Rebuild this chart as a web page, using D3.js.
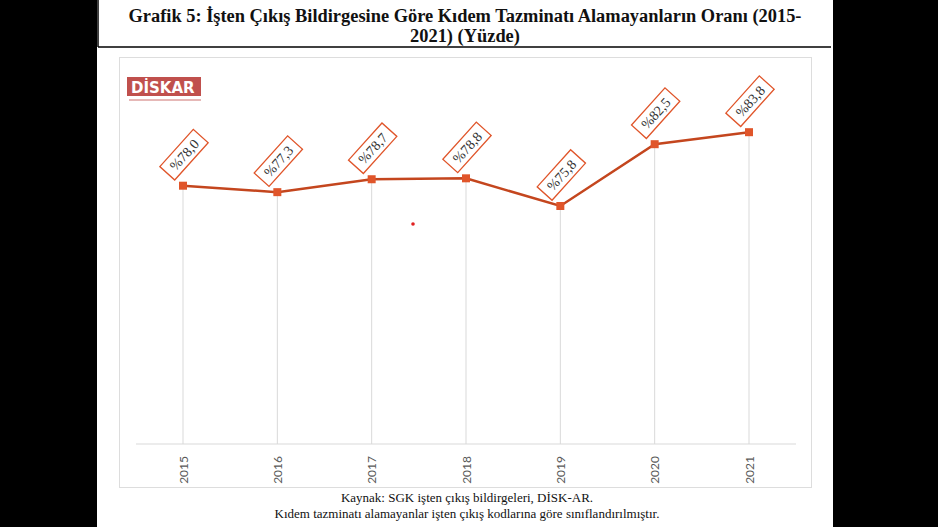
<!DOCTYPE html>
<html><head><meta charset="utf-8">
<script src="https://cdn.jsdelivr.net/npm/d3@7"></script>
<style>body{margin:0;background:#000;}</style>
</head><body>
<svg id="c" width="938" height="527"></svg>
<script>
var years = ['2015','2016','2017','2018','2019','2020','2021'];
var rates = [78.0, 77.3, 78.7, 78.8, 75.8, 82.5, 83.8];
var labels = ['%78,0','%77,3','%78,7','%78,8','%75,8','%82,5','%83,8'];

var svg = d3.select('#c');

// page
svg.append('rect').attr('x', 97).attr('y', 0).attr('width', 736).attr('height', 527).attr('fill', '#fff');
svg.append('line').attr('x1', 98).attr('x2', 98).attr('y1', 0).attr('y2', 47).attr('stroke', '#000').attr('stroke-width', 1.5);
svg.append('line').attr('x1', 98).attr('x2', 831).attr('y1', 47).attr('y2', 47).attr('stroke', '#000').attr('stroke-width', 1.5);

var title = svg.append('text').attr('text-anchor', 'middle').attr('font-family', '"Liberation Serif", serif')
	.attr('font-weight', 'bold').attr('font-size', 18.4).attr('fill', '#111');
title.append('tspan').attr('x', 465).attr('y', 22).text('Grafik 5: İşten Çıkış Bildirgesine Göre Kıdem Tazminatı Alamayanların Oranı (2015-');
title.append('tspan').attr('x', 465).attr('y', 42).text('2021) (Yüzde)');

// chart frame
svg.append('rect').attr('x', 119.5).attr('y', 57.5).attr('width', 692).attr('height', 430)
	.attr('fill', '#fff').attr('stroke', '#ddd');

// logo
svg.append('rect').attr('x', 127).attr('y', 77).attr('width', 74).attr('height', 19).attr('fill', '#c0504d');
svg.append('text').attr('x', 131).attr('y', 93).attr('font-family', '"DejaVu Sans"').attr('font-weight', 'bold')
	.attr('font-size', 15).attr('fill', '#fff').text('DİSKAR');
svg.append('rect').attr('x', 129).attr('y', 99).attr('width', 72).attr('height', 2).attr('fill', '#e6b8b7');

var x = d3.scalePoint().domain(years).range([183, 749]);
var y = d3.scaleLinear().domain([50, 90]).range([444, 75]);

var g = svg.append('g');
g.selectAll('line.grid').data(years).enter().append('line')
	.attr('x1', function (d) { return x(d); }).attr('x2', function (d) { return x(d); })
	.attr('y1', function (d, i) { return y(rates[i]); }).attr('y2', 444)
	.attr('stroke', '#d9d9d9');
g.append('line').attr('x1', 136).attr('x2', 796).attr('y1', 444).attr('y2', 444).attr('stroke', '#d9d9d9');

var xAxis = d3.axisBottom(x).tickSize(0);
var ax = g.append('g').attr('transform', 'translate(0,444)').call(xAxis);
ax.select('.domain').remove();
ax.selectAll('text').attr('transform', 'rotate(-90)').attr('text-anchor', 'end')
	.attr('x', -12).attr('y', 0).attr('dy', '0.35em')
	.attr('font-family', 'Lato, "Open Sans", sans-serif').attr('font-size', 12).attr('fill', '#595959');

var line = d3.line().x(function (d, i) { return x(years[i]); }).y(function (d) { return y(d); });
g.append('path').datum(rates).attr('d', line).attr('fill', 'none').attr('stroke', '#c4461e').attr('stroke-width', 2.5);
g.selectAll('rect.m').data(rates).enter().append('rect')
	.attr('x', function (d, i) { return x(years[i]) - 4; }).attr('y', function (d) { return y(d) - 4; })
	.attr('width', 8).attr('height', 8).attr('fill', '#e0552a');

var lab = g.selectAll('g.lab').data(rates).enter().append('g')
	.attr('transform', function (d, i) { return 'translate(' + (x(years[i]) + 1) + ',' + (y(d) - 31) + ') rotate(-48)'; });
lab.append('rect').attr('x', -25).attr('y', -10).attr('width', 50).attr('height', 20)
	.attr('fill', '#fff').attr('stroke', '#e0552a').attr('stroke-width', 1.3);
lab.append('text').attr('text-anchor', 'middle').attr('dy', '0.36em')
	.attr('font-family', '"Liberation Serif", serif').attr('font-size', 14).attr('fill', '#333')
	.text(function (d, i) { return labels[i]; });

svg.append('circle').attr('cx', 413).attr('cy', 224).attr('r', 1.8).attr('fill', '#e02020');

var src = svg.append('text').attr('text-anchor', 'middle').attr('font-family', '"Liberation Serif", serif')
	.attr('font-size', 13).attr('fill', '#111');
src.append('tspan').attr('x', 467).attr('y', 502).text('Kaynak: SGK işten çıkış bildirgeleri, DİSK-AR.');
src.append('tspan').attr('x', 467).attr('y', 518).text('Kıdem tazminatı alamayanlar işten çıkış kodlarına göre sınıflandırılmıştır.');
</script>
</body></html>
